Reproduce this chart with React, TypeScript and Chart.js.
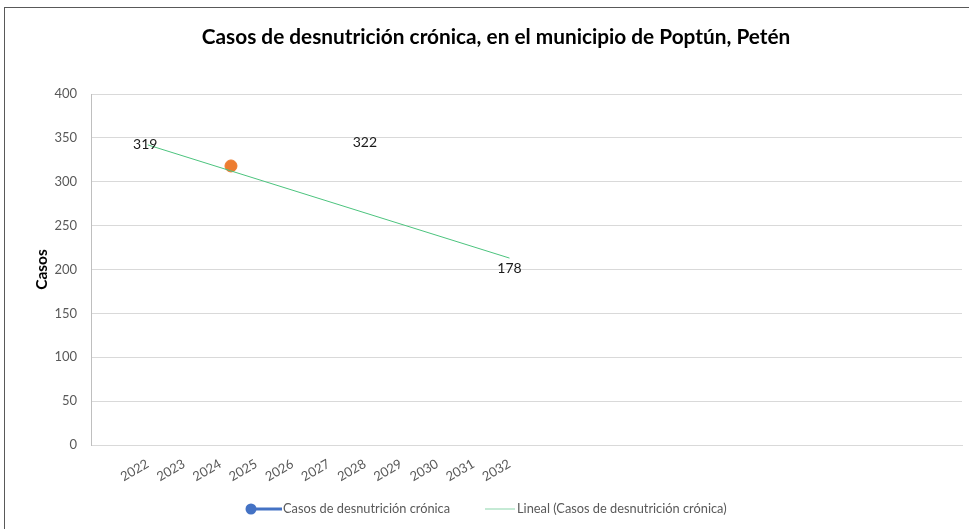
import React, { useEffect, useRef } from "react";
import { Chart, registerables } from "chart.js";

Chart.register(...registerables);

const TITLE = "Casos de desnutrición crónica, en el municipio de Poptún, Petén";
const Y_TITLE = "Casos";
const YEARS = [2022, 2023, 2024, 2025, 2026, 2027, 2028, 2029, 2030, 2031, 2032];
const SERIES_NAME = "Casos de desnutrición crónica";
const TREND_NAME = "Lineal (Casos de desnutrición crónica)";
const POINT_X = [2024.3];
const POINT_Y = [318];
const TREND_X = [2022, 2032];
const TREND_Y = [342, 213];
const LABEL_TEXT = ["319", "322", "178"];
const LABEL_X = [2021.93, 2028, 2032];
const LABEL_Y = [342, 345, 201];

const FONT = "Lato";

const decorPlugin = {
  id: "decor",
  beforeDraw(chart: any) {
    const ctx = chart.ctx;
    ctx.save();
    ctx.fillStyle = "#ffffff";
    ctx.fillRect(0, 0, chart.width, chart.height);
    ctx.strokeStyle = "#595959";
    ctx.lineWidth = 1;
    ctx.strokeRect(4.5, 7.5, chart.width + 20, chart.height + 20);
    ctx.restore();
  },
  afterDraw(chart: any) {
    const ctx = chart.ctx;
    const xs = chart.scales.x;
    const ys = chart.scales.y;
    ctx.save();
    // title
    ctx.fillStyle = "#000000";
    ctx.font = `bold 20.8px ${FONT}`;
    ctx.textAlign = "center";
    ctx.textBaseline = "middle";
    ctx.fillText(TITLE, 496, 37);
    // data labels
    ctx.font = `14px ${FONT}`;
    ctx.fillStyle = "#1a1a1a";
    LABEL_TEXT.forEach((t, i) => {
      ctx.fillText(t, xs.getPixelForValue(LABEL_X[i]), ys.getPixelForValue(LABEL_Y[i]));
    });
    // legend
    const ly = 509;
    ctx.strokeStyle = "#4472C4";
    ctx.lineWidth = 3;
    ctx.beginPath();
    ctx.moveTo(251, ly);
    ctx.lineTo(282, ly);
    ctx.stroke();
    ctx.fillStyle = "#4472C4";
    ctx.beginPath();
    ctx.arc(251, ly, 5.5, 0, Math.PI * 2);
    ctx.fill();
    ctx.font = `12.8px ${FONT}`;
    ctx.fillStyle = "#595959";
    ctx.textAlign = "left";
    ctx.fillText(SERIES_NAME, 283, ly);
    ctx.strokeStyle = "#9fdcb9";
    ctx.lineWidth = 1.2;
    ctx.beginPath();
    ctx.moveTo(485, ly);
    ctx.lineTo(515, ly);
    ctx.stroke();
    ctx.fillText(TREND_NAME, 517, ly);
    ctx.restore();
  },
};

export default function App() {
  const ref = useRef<HTMLCanvasElement | null>(null);
  useEffect(() => {
    document.body.style.margin = "0";
    const canvas = ref.current;
    if (!canvas) return;
    const chart = new Chart(canvas, {
      type: "scatter",
      data: {
        datasets: [
          {
            type: "line",
            label: TREND_NAME,
            data: TREND_X.map((x, i) => ({ x, y: TREND_Y[i] })),
            borderColor: "#4cc47e",
            borderWidth: 1,
            pointRadius: 0,
            fill: false,
          },
          {
            type: "scatter",
            label: SERIES_NAME,
            data: POINT_X.map((x, i) => ({ x, y: POINT_Y[i] })),
            backgroundColor: "#ED7D31",
            borderColor: "#ED7D31",
            pointRadius: 6,
          },
        ],
      },
      options: {
        responsive: false,
        animation: false,
        layout: { padding: { left: 0, right: 4, top: 94, bottom: 0 } },
        plugins: {
          legend: { display: false },
          title: { display: false },
          tooltip: { enabled: false },
        },
        scales: {
          x: {
            type: "linear",
            min: 2020.43,
            max: 2044.51,
            afterBuildTicks: (s: any) => {
              s.ticks = YEARS.map((v) => ({ value: v }));
            },
            afterFit: (s: any) => {
              s.height = 84;
            },
            grid: { display: false, drawTicks: false },
            border: { display: true, color: "#d9d9d9", width: 1 },
            ticks: {
              minRotation: 30,
              maxRotation: 30,
              padding: 11,
              autoSkip: false,
              color: "#595959",
              font: { family: FONT, size: 13 },
              callback: (v: any) => String(v),
            },
          },
          y: {
            min: 0,
            max: 400,
            afterFit: (s: any) => {
              s.width = 91;
            },
            grid: { color: "#d9d9d9", drawTicks: false },
            border: { display: true, color: "#bfbfbf", width: 1 },
            ticks: {
              stepSize: 50,
              padding: 14,
              color: "#595959",
              font: { family: FONT, size: 13 },
            },
            title: {
              display: true,
              text: Y_TITLE,
              color: "#000000",
              font: { family: FONT, size: 15.5, weight: "bold" },
              padding: { top: 33, bottom: 0 },
            },
          },
        },
      },
      plugins: [decorPlugin],
    });
    return () => chart.destroy();
  }, []);
  return (
    <canvas
      ref={ref}
      width={969}
      height={529}
      style={{ display: "block", width: 969, height: 529 }}
    />
  );
}
